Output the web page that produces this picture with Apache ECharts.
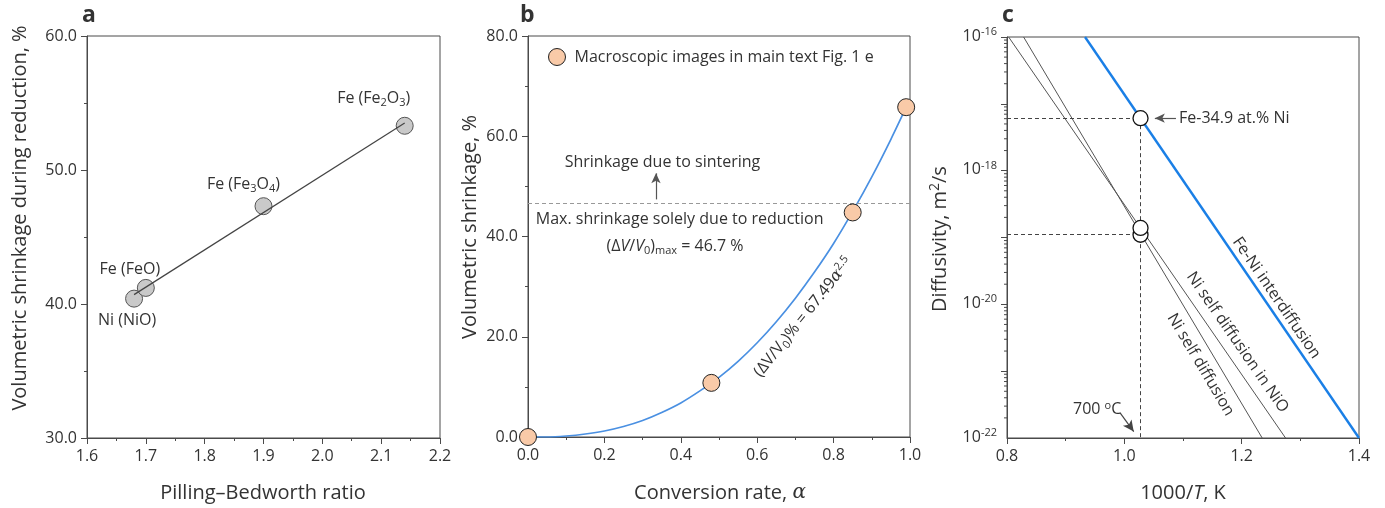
<!DOCTYPE html>
<html>
<head>
<meta charset="utf-8">
<script src="https://cdn.jsdelivr.net/npm/echarts@6/dist/echarts.min.js"></script>
<style>
  html, body { margin: 0; padding: 0; background: #fff; }
  #chart { width: 1385px; height: 508px; }
</style>
</head>
<body>
<div id="chart"></div>
<script>
// ---- (a) shrinkage during reduction vs. Pilling–Bedworth ratio ----
const pbRatio = [1.68, 1.70, 1.90, 2.14];
const pbShrinkage = [40.4, 41.2, 47.3, 53.3];
const pbLabels = ['Ni (NiO)', 'Fe (FeO)', 'Fe (Fe{sub|3}O{sub|4})', 'Fe (Fe{sub|2}O{sub|3})'];
const pbFitRatio = [1.68, 2.14];
const pbFitShrinkage = [40.7, 53.5];

// ---- (b) volumetric shrinkage vs. conversion rate ----
const convRate = [0.0, 0.48, 0.85, 0.99];
const convShrinkage = [0.0, 10.8, 44.8, 65.8];
const fitRate = [0.0, 0.05, 0.1, 0.15, 0.2, 0.25, 0.3, 0.35, 0.4, 0.45, 0.5,
                 0.55, 0.6, 0.65, 0.7, 0.75, 0.8, 0.85, 0.9, 0.95, 0.99];
const fitShrinkage = [0.0, 0.0, 0.2, 0.6, 1.2, 2.1, 3.3, 4.9, 6.8, 9.2, 11.9,
                      15.1, 18.8, 23.0, 27.7, 32.9, 38.6, 45.0, 51.9, 59.4, 65.8];
const maxReductionShrinkage = 46.7;

// ---- (c) diffusivity vs. 1000/T (Arrhenius lines) ----
const feNiInvT = [0.933, 1.4];
const feNiD = [1e-16, 1e-22];
const niInNiOInvT = [0.8028, 1.2748];
const niInNiOD = [1e-16, 1e-22];
const niSelfInvT = [0.8283, 1.235];
const niSelfD = [1e-16, 1e-22];
const invT700 = 1.0276;
const d700 = [1.1e-19, 1.39e-19, 6.1e-18];   // Ni self, Ni in NiO, Fe-Ni at 700 °C
const yTickExp = [-22, -20, -18, -16];

const FONT = 'Open Sans';
const TXT = '#333';
const AX = '#4a4a4a';

const chart = echarts.init(document.getElementById('chart'), null, { renderer: 'canvas' });

function valueAxis(gridIndex, min, max, interval, fmt, extra) {
  return Object.assign({
    type: 'value', gridIndex, min, max, interval,
    axisLine: { show: true, onZero: false, lineStyle: { color: AX, width: 1 } },
    axisTick: { show: true, inside: false, length: 6, lineStyle: { color: AX } },
    minorTick: { show: true, splitNumber: 2, length: 3, lineStyle: { color: AX } },
    axisLabel: { color: TXT, fontSize: 16, fontFamily: FONT, margin: 10, formatter: fmt,
                 showMinLabel: true, showMaxLabel: true, hideOverlap: false },
    splitLine: { show: false },
    minorSplitLine: { show: false }
  }, extra || {});
}
const f1 = v => v.toFixed(1);

function richComp(size) {
  const s = Math.round(size * 0.68);
  return {
    sub: { fontFamily: FONT, fontSize: s, color: TXT, lineHeight: Math.round(s * 1.2), padding: [Math.round(size * 0.55), 0, 0, 0] },
    sup: { fontFamily: FONT, fontSize: s, color: TXT, lineHeight: Math.round(s * 1.2), padding: [0, 0, Math.round(size * 0.5), 0] },
    n: { fontFamily: FONT, fontSize: size, color: TXT, lineHeight: Math.round(size * 1.25) }
  };
}

// panel a label offsets from their points, in pixels
const pbLabelOffsets = [[-7, 22], [-16, -18], [-20, -22], [-31, -27]];

// log minor ticks (2..9 per decade) for panel c
const minorLogTicks = [];
for (let e = -22; e < -16; e++) {
  for (let m = 2; m <= 9; m++) minorLogTicks.push([0.8, m * Math.pow(10, e)]);
}

const option = {
  animation: false,
  backgroundColor: '#fff',
  grid: [
    { left: 87, top: 36, width: 353, height: 402, show: true, borderColor: AX, borderWidth: 1, backgroundColor: 'transparent', outerBoundsMode: 'none' },
    { left: 528, top: 36, width: 382, height: 401, show: true, borderColor: AX, borderWidth: 1, backgroundColor: 'transparent', outerBoundsMode: 'none' },
    { left: 1007, top: 37, width: 352, height: 401, show: true, borderColor: AX, borderWidth: 1, backgroundColor: 'transparent', outerBoundsMode: 'none' }
  ],
  xAxis: [
    valueAxis(0, 1.6, 2.2, 0.1, f1),
    valueAxis(1, 0, 1.0, 0.2, f1),
    valueAxis(2, 0.8, 1.4, 0.2, f1)
  ],
  yAxis: [
    valueAxis(0, 30, 60, 10, f1),
    valueAxis(1, 0, 80, 20, f1),
    {
      type: 'log', gridIndex: 2, logBase: 10, min: 1e-22, max: 1e-16, splitNumber: 6,
      axisLine: { show: true, onZero: false, lineStyle: { color: AX, width: 1 } },
      axisTick: { show: true, inside: false, length: 6, lineStyle: { color: AX } },
      minorTick: { show: false },
      splitLine: { show: false },
      axisLabel: { show: false }
    }
  ],
  legend: {
    data: ['Macroscopic images in main text Fig. 1 e'],
    left: 543, top: 43,
    itemWidth: 17, itemHeight: 17, icon: 'circle',
    selectedMode: false,
    itemStyle: { borderColor: '#222', borderWidth: 1 },
    textStyle: { fontSize: 16, color: TXT, fontFamily: FONT, padding: [0, 0, 0, 4] }
  },
  series: [
    // (a)
    {
      type: 'scatter', xAxisIndex: 0, yAxisIndex: 0, z: 3,
      symbolSize: 17,
      itemStyle: { color: '#c9c9c9', borderColor: '#555', borderWidth: 1, opacity: 1 },
      data: pbRatio.map((x, i) => ({
        value: [x, pbShrinkage[i]],
        label: {
          show: true, position: 'inside', offset: pbLabelOffsets[i],
          formatter: pbLabels[i], fontFamily: FONT, fontSize: 16, color: TXT,
          rich: richComp(16)
        }
      })),
      emphasis: { disabled: true }, silent: true
    },
    {
      type: 'line', xAxisIndex: 0, yAxisIndex: 0, z: 4,
      symbol: 'none', lineStyle: { color: '#444', width: 1.2 },
      data: pbFitRatio.map((x, i) => [x, pbFitShrinkage[i]]),
      silent: true
    },
    // (b)
    {
      type: 'line', xAxisIndex: 1, yAxisIndex: 1, z: 2,
      smooth: 0.3, symbol: 'none',
      lineStyle: { color: '#4a90e2', width: 1.7 },
      data: fitRate.map((x, i) => [x, fitShrinkage[i]]),
      silent: true,
      markLine: {
        silent: true, symbol: ['none', 'none'],
        label: { show: false },
        data: [
          { yAxis: maxReductionShrinkage, lineStyle: { type: [4, 3], color: '#999', width: 1 } },
          [
            { coord: [0.335, 47.4], symbol: 'none', lineStyle: { type: 'solid', color: '#555', width: 1.2 } },
            { coord: [0.335, 52.6], symbol: 'arrow', symbolSize: [7, 10] }
          ]
        ]
      }
    },
    {
      name: 'Macroscopic images in main text Fig. 1 e',
      type: 'scatter', xAxisIndex: 1, yAxisIndex: 1, z: 5,
      symbolSize: 17,
      itemStyle: { color: '#f9caa8', borderColor: '#222', borderWidth: 1, opacity: 1 },
      data: convRate.map((x, i) => [x, convShrinkage[i]]),
      clip: false, silent: true
    },
    // (c)
    {
      type: 'line', xAxisIndex: 2, yAxisIndex: 2, z: 2,
      symbol: 'none', lineStyle: { color: '#1a7fe6', width: 2.4 },
      data: feNiInvT.map((x, i) => [x, feNiD[i]]), silent: true
    },
    {
      type: 'line', xAxisIndex: 2, yAxisIndex: 2, z: 2,
      symbol: 'none', lineStyle: { color: '#555', width: 1 },
      data: niInNiOInvT.map((x, i) => [x, niInNiOD[i]]), silent: true
    },
    {
      type: 'line', xAxisIndex: 2, yAxisIndex: 2, z: 2,
      symbol: 'none', lineStyle: { color: '#555', width: 1 },
      data: niSelfInvT.map((x, i) => [x, niSelfD[i]]), silent: true,
      markLine: {
        silent: true, symbol: ['none', 'none'],
        label: { show: false },
        lineStyle: { type: [4, 3], color: '#444', width: 1 },
        data: [
          [{ coord: [0.8, d700[2]] }, { coord: [invT700, d700[2]] }],
          [{ coord: [0.8, d700[0]] }, { coord: [invT700, d700[0]] }],
          [{ coord: [invT700, d700[2]] }, { coord: [invT700, 1e-22] }],
          [
            { coord: [1.088, d700[2]], symbol: 'none', lineStyle: { type: 'solid', color: '#555', width: 1.2 } },
            { coord: [1.052, d700[2]], symbol: 'arrow', symbolSize: [7, 10] }
          ],
          [
            { coord: [0.9928, 2.37e-22], symbol: 'none', lineStyle: { type: 'solid', color: '#444', width: 1.2 } },
            { coord: [1.0160, 1.25e-22], symbol: 'arrow', symbolSize: [8, 11] }
          ]
        ]
      }
    },
    {
      type: 'scatter', xAxisIndex: 2, yAxisIndex: 2, z: 6,
      symbolSize: 15,
      itemStyle: { color: '#fff', borderColor: '#111', borderWidth: 1.3, opacity: 1 },
      data: d700.map(d => [invT700, d]), silent: true
    },
    {
      type: 'custom', xAxisIndex: 2, yAxisIndex: 2, z: 3, clip: false, silent: true,
      data: minorLogTicks,
      renderItem: (params, api) => {
        const p = api.coord([api.value(0), api.value(1)]);
        return {
          type: 'line',
          shape: { x1: p[0] - 3, y1: p[1], x2: p[0], y2: p[1] },
          style: { stroke: AX, lineWidth: 1 }
        };
      }
    }
  ]
};

chart.setOption(option);

// ---------- text annotations ----------
function richG(size) {
  const s = Math.round(size * 0.68);
  return {
    sub: { fontFamily: FONT, fontSize: s, fill: TXT, lineHeight: Math.round(s * 1.2), padding: [Math.round(size * 0.55), 0, 0, 0] },
    sup: { fontFamily: FONT, fontSize: s, fill: TXT, lineHeight: Math.round(s * 1.2), padding: [0, 0, Math.round(size * 0.5), 0] },
    i: { fontFamily: FONT, fontSize: size, fill: TXT, fontStyle: 'italic', lineHeight: Math.round(size * 1.25) },
    g: { fontFamily: 'DejaVu Serif', fontSize: size, fill: TXT, fontStyle: 'italic', lineHeight: Math.round(size * 1.25) },
    n: { fontFamily: FONT, fontSize: size, fill: TXT, lineHeight: Math.round(size * 1.25) }
  };
}
function label(x, y, text, o) {
  o = o || {};
  const size = o.size || 16;
  return {
    type: 'text', x, y, rotation: o.rot || 0, z: 100, silent: true,
    style: {
      text, fill: TXT, fontFamily: FONT, fontSize: size,
      fontWeight: o.bold ? 'bold' : 'normal',
      lineHeight: Math.round(size * 1.25),
      align: o.align || 'center', verticalAlign: 'middle',
      rich: richG(size)
    }
  };
}
const px = (g, x, y) => chart.convertToPixel({ gridIndex: g }, [x, y]);
function angleOf(g, xs, ys) {
  const a = px(g, xs[0], ys[0]), b = px(g, xs[1], ys[1]);
  return -Math.atan2(b[1] - a[1], b[0] - a[0]);
}

const graphics = [];
// panel letters
graphics.push(label(82, 15, 'a', { size: 23, bold: true, align: 'left' }));
graphics.push(label(520, 15, 'b', { size: 23, bold: true, align: 'left' }));
graphics.push(label(1002, 15, 'c', { size: 23, bold: true, align: 'left' }));
// axis titles
graphics.push(label(20, 218, 'Volumetric shrinkage during reduction, %', { size: 20, rot: Math.PI / 2 }));
graphics.push(label(263, 493, 'Pilling–Bedworth ratio', { size: 20 }));
graphics.push(label(470, 227, 'Volumetric shrinkage, %', { size: 20, rot: Math.PI / 2 }));
graphics.push(label(720, 493, 'Conversion rate, {g|α}', { size: 20 }));
graphics.push(label(940, 239, 'Diffusivity, m{sup|2}/s', { size: 20, rot: Math.PI / 2 }));
graphics.push(label(1183, 493, '1000/{i|T}, K', { size: 20 }));

// panel c decade labels (10^n), placed at the log axis positions
yTickExp.forEach(e => {
  const p = px(2, 0.8, Math.pow(10, e));
  graphics.push(label(p[0] - 10, p[1] - 1, '{n|10}{sup|' + e + '}', { align: 'right' }));
});

// panel b notes
[
  { x: 0.352, y: 54.8, t: 'Shrinkage due to sintering' },
  { x: 0.397, y: 43.5, t: 'Max. shrinkage solely due to reduction' },
  { x: 0.385, y: 38.0, t: '(Δ{i|V}/{i|V}{sub|0}){sub|max} = 46.7 %' }
].forEach(a => {
  const p = px(1, a.x, a.y);
  graphics.push(label(p[0], p[1], a.t));
});
{
  const p = px(1, 0.7205, 23.9);
  graphics.push(label(p[0], p[1], '(ΔV/V{sub|0})% = 67.49{g|α}{sup|2.5}', { rot: 51.4 * Math.PI / 180 }));
}

// panel c notes
{
  let p = px(2, 1.0932, d700[2]);
  graphics.push(label(p[0], p[1], 'Fe-34.9 at.% Ni', { align: 'left' }));
  p = px(2, 0.9537, 2.65e-22);
  graphics.push(label(p[0], p[1], '700 {sup|o}C'));
  p = px(2, 1.2594, 1.245e-20);
  graphics.push(label(p[0], p[1], 'Fe-Ni interdiffusion', { rot: angleOf(2, feNiInvT, feNiD) }));
  p = px(2, 1.1927, 2.71e-21);
  graphics.push(label(p[0], p[1], 'Ni self diffusion in NiO', { rot: angleOf(2, niInNiOInvT, niInNiOD) }));
  p = px(2, 1.1301, 1.25e-21);
  graphics.push(label(p[0], p[1], 'Ni self diffusion', { rot: angleOf(2, niSelfInvT, niSelfD) }));
}

chart.setOption({ graphic: graphics });
</script>
</body>
</html>
